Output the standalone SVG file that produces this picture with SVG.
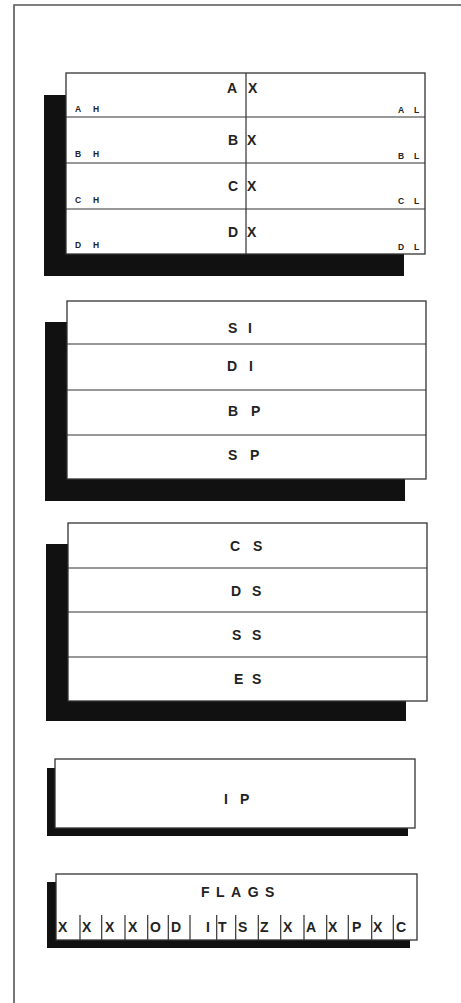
<svg xmlns="http://www.w3.org/2000/svg" width="461" height="1003" viewBox="0 0 461 1003">
<style>
.shadow{fill:#111;}
.box{fill:#fff;stroke:#333;stroke-width:1.3;}
.ln{stroke:#333;stroke-width:1.2;fill:none;}
.frame{stroke:#555;stroke-width:1.6;fill:none;}
.big{font-family:"Liberation Sans",Arial,sans-serif;font-weight:bold;font-size:14px;fill:#222;}
.small{font-family:"Liberation Sans",Arial,sans-serif;font-weight:bold;font-size:8.5px;fill:#222;}
</style>
<rect width="461" height="1003" fill="#fff"/>
<path class="frame" d="M14,1003 V5 H461"/>

<g id="general-registers">
<rect class="shadow" x="44" y="95" width="360" height="181"/>
<rect class="box" x="66" y="73" width="359" height="181"/>
<path class="ln" d="M66,117 H425 M66,163 H425 M66,209 H425 M246,73 V254"/>
<text class="big" x="227 248" y="93">AX</text>
<text class="big" x="228 247" y="145">BX</text>
<text class="big" x="228 247" y="191">CX</text>
<text class="big" x="228 247" y="237">DX</text>
<text class="small" x="75 93" y="112">AH</text>
<text class="small" x="75 93" y="157">BH</text>
<text class="small" x="75 93" y="203">CH</text>
<text class="small" x="75 93" y="248">DH</text>
<text class="small" x="398 414" y="113">AL</text>
<text class="small" x="398 414" y="159">BL</text>
<text class="small" x="398 414" y="204">CL</text>
<text class="small" x="398 414" y="250">DL</text>
</g>

<g id="pointer-index-registers">
<rect class="shadow" x="45" y="322" width="360" height="179"/>
<rect class="box" x="67" y="301" width="359" height="178"/>
<path class="ln" d="M67,344 H426 M67,390 H426 M67,435 H426"/>
<text class="big" x="228 248" y="333">SI</text>
<text class="big" x="227 249" y="371">DI</text>
<text class="big" x="228 251" y="416">BP</text>
<text class="big" x="228 250" y="460">SP</text>
</g>

<g id="segment-registers">
<rect class="shadow" x="46" y="544" width="360" height="177"/>
<rect class="box" x="68" y="523" width="359" height="178"/>
<path class="ln" d="M68,568 H427 M68,612 H427 M68,657 H427"/>
<text class="big" x="230 253" y="551">CS</text>
<text class="big" x="231 252" y="596">DS</text>
<text class="big" x="232 252" y="640">SS</text>
<text class="big" x="234 252" y="684">ES</text>
</g>

<g id="instruction-pointer">
<rect class="shadow" x="47" y="768" width="361" height="68"/>
<rect class="box" x="55" y="759" width="360" height="69"/>
<text class="big" x="224 240" y="804">IP</text>
</g>

<g id="flags-register">
<rect class="shadow" x="47" y="882" width="363" height="66"/>
<rect class="box" x="56" y="874" width="361" height="66"/>
<text class="big" x="201" y="897" letter-spacing="6.5">FLAGS</text>
<path class="ln" d="M80,915 V940 M101.7,915 V940 M125,915 V940 M147.7,915 V940 M168.3,915 V940 M190,915 V940 M216.7,915 V940 M235.7,915 V940 M258.3,915 V940 M280.7,915 V940 M304,915 V940 M326.7,915 V940 M348.3,915 V940 M371.7,915 V940 M393.3,915 V940"/>
<text class="big" x="58 82 105 128 150 171 206 218 238 260 283 306 328 352 373 396" y="932">XXXXODITSZXAXPXC</text>
</g>
</svg>
